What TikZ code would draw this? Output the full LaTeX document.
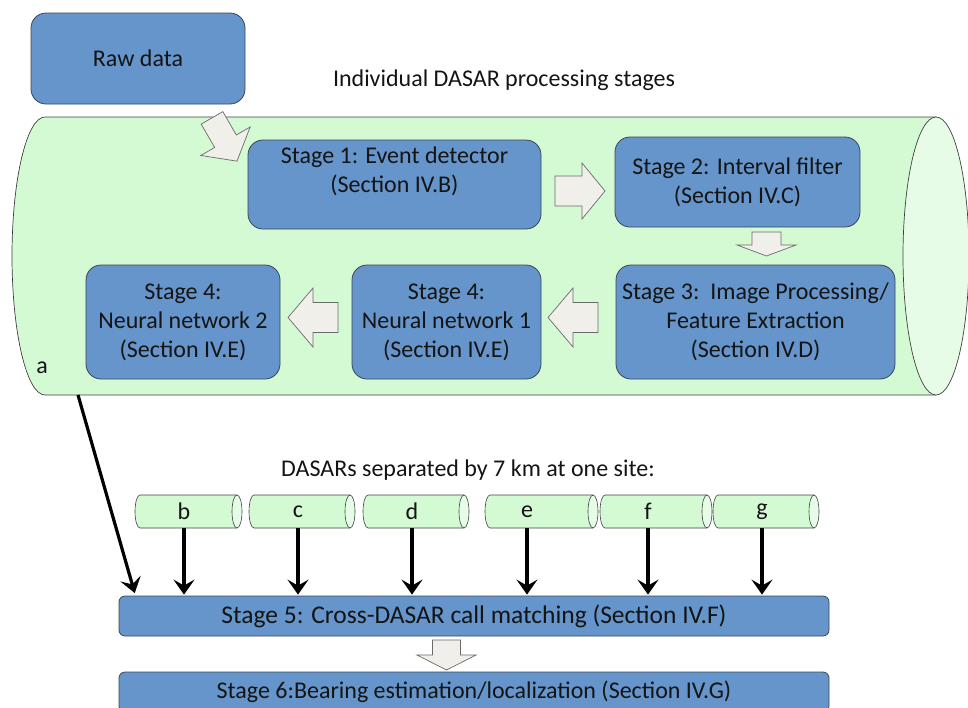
\documentclass[tikz,border=0pt]{standalone}
\usepackage{fontspec}
\setmainfont{Carlito}
\usetikzlibrary{arrows.meta,calc}
\definecolor{boxblue}{HTML}{6595CA}
\definecolor{boxline}{HTML}{3A4656}
\definecolor{pipegreen}{HTML}{D4FAD4}
\definecolor{pipeend}{HTML}{E6FCE6}
\definecolor{arrfill}{HTML}{F1EFEA}
\definecolor{arrline}{HTML}{6A6A6A}
\definecolor{txtcol}{HTML}{141414}
\begin{document}
\begin{tikzpicture}[x=1pt,y=-1pt,
  font=\fontsize{24}{29}\selectfont, text=txtcol,
  stagebox/.style={draw=boxline, line width=0.8pt, fill=boxblue, rounded corners=15pt,
    align=center, inner sep=0pt},
  flatbox/.style={stagebox, rounded corners=6pt},
  blockarrline/.style={draw=arrline, fill=arrfill, line width=0.7pt, line join=miter},
  pics/blockarrow/.style n args={4}{code={
    % #1 length, #2 shaft half width, #3 head half width, #4 head length
    \path[blockarrline] ({-#1/2},{-#2}) -- ({#1/2-#4},{-#2}) -- ({#1/2-#4},{-#3}) -- ({#1/2},0)
      -- ({#1/2-#4},{#3}) -- ({#1/2-#4},{#2}) -- ({-#1/2},{#2}) -- cycle;
  }},
  pipeline/.style={draw=black!75, line width=0.7pt},
  dasar/.style={inner sep=0pt, minimum height=33pt, minimum width=10pt},
  feed/.style={line width=3.2pt, -{Stealth[length=15pt,width=21pt,inset=6pt]}, shorten >=1pt}
]
\useasboundingbox (0,0) rectangle (968,707);
\clip (0,0) rectangle (968,707);

% big cylinder (individual DASAR)
\fill[pipegreen] (936,117) -- (45,117) arc[start angle=270,end angle=90,x radius=33,y radius=139] -- (936,395) -- cycle;
\draw[pipeline] (936,117) -- (45,117) arc[start angle=270,end angle=90,x radius=33,y radius=139] -- (936,395);
\draw[pipeline, fill=pipeend] (936,256) ellipse[x radius=33, y radius=139];
\coordinate (aout) at (78,395);
\node (alab) at (42,368) {a};

% titles
\node (title1) at (504,80) {Individual DASAR processing stages};
\node (title2) at (468,470) {DASARs separated by 7 km at one site:};

% boxes
\node[stagebox, minimum width=214pt, minimum height=91pt] (raw) at (138,58.5) {Raw data};
\node[stagebox, minimum width=293pt, minimum height=89pt] (s1) at (394.5,184.5) {Stage 1: Event detector\\(Section IV.B)\\[-8pt]\strut};
\node[stagebox, minimum width=245pt, minimum height=90pt] (s2) at (737.5,182) {Stage 2: Interval filter\\(Section IV.C)};
\node[stagebox, minimum width=279pt, minimum height=114pt] (s3) at (755.5,322) {Stage 3:~~Image Processing/\\Feature Extraction\\(Section IV.D)};
\node[stagebox, minimum width=189pt, minimum height=114pt] (nn1) at (446.5,322) {Stage 4:\\Neural network 1\\(Section IV.E)};
\node[stagebox, minimum width=194pt, minimum height=114pt] (nn2) at (183,322) {Stage 4:\\Neural network 2\\(Section IV.E)};
\node[flatbox, minimum width=710pt, minimum height=40pt, font=\fontsize{25.5}{30}\selectfont] (s5) at (474,616) {Stage 5: Cross-DASAR call matching (Section IV.F)};
\node[flatbox, minimum width=710pt, minimum height=40pt] (s6) at (474,692) {Stage 6:Bearing estimation/localization (Section IV.G)};

% block arrows
\pic[rotate=-60] (a1) at (224.5,139.5) {blockarrow={50}{12.5}{28.5}{23}};
\pic (a2) at (580,191) {blockarrow={50}{15}{28}{23}};
\pic[rotate=-90] (a3) at (766.5,244) {blockarrow={24}{14.5}{29.5}{11}};
\pic[rotate=180] (a4) at (573,317.5) {blockarrow={50}{15}{29.5}{25}};
\pic[rotate=180] (a5) at (313,317.5) {blockarrow={50}{15}{29.5}{25}};
\pic[rotate=-90] (a6) at (446.5,655) {blockarrow={30}{14}{29.5}{15}};

% small cylinders
\foreach \n/\l/\r/\ax in {b/135/242/184, c/249/355/298, d/363/469/412, e/485/598/527, f/600/712/648, g/713/819/762}{
  \fill[pipegreen] (\r-5,495) -- (\l+5,495) arc[start angle=270,end angle=90,x radius=5,y radius=16.5] -- (\r-5,528) -- cycle;
  \draw[pipeline, line width=0.6pt] (\r-5,495) -- (\l+5,495) arc[start angle=270,end angle=90,x radius=5,y radius=16.5] -- (\r-5,528);
  \draw[pipeline, line width=0.6pt, fill=pipeend] (\r-5,511.5) ellipse[x radius=5, y radius=16.5];
  \node[dasar] (\n) at (\ax,511.5) {\n};
  \draw[feed] (\n.south) -- (\n.south |- s5.north);
}
\coordinate (ain) at (135,594);
\draw[feed] (aout) -- (ain);
\end{tikzpicture}
\end{document}
